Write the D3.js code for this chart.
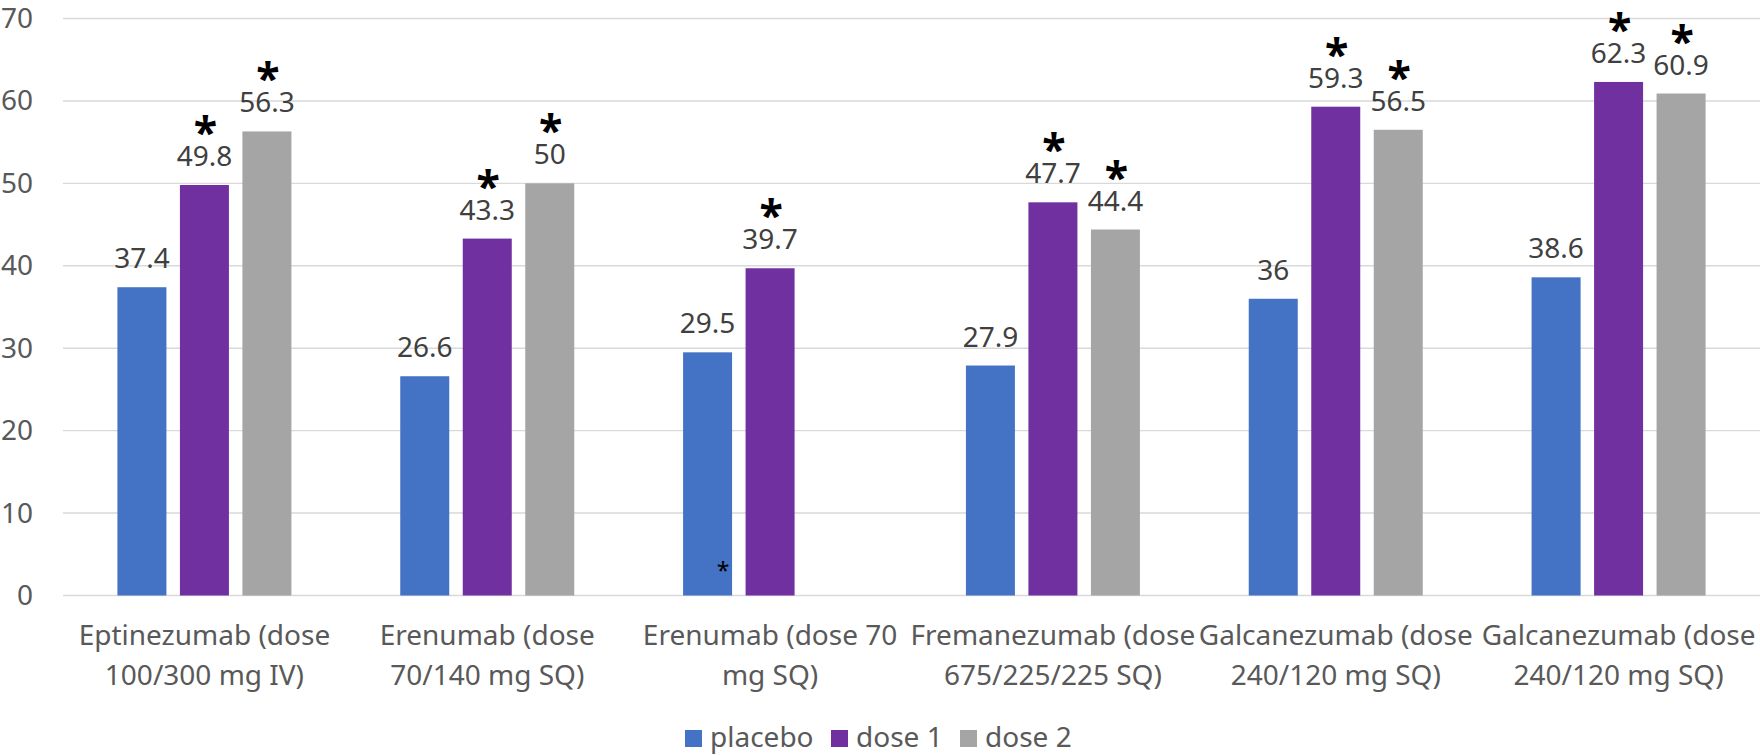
<!DOCTYPE html>
<html>
<head>
<meta charset="utf-8">
<script src="https://cdn.jsdelivr.net/npm/d3@7"></script>
<style>
  html, body { margin: 0; padding: 0; background: #fff; }
  svg text { font-family: "Noto Sans", "Open Sans", sans-serif; }
</style>
</head>
<body>
<svg id="chart" width="1760" height="755"></svg>
<script>
// Responder rates by CGRP antibody trial
const categories = [
  ["Eptinezumab (dose", "100/300 mg IV)"],
  ["Erenumab (dose", "70/140 mg SQ)"],
  ["Erenumab (dose 70", "mg SQ)"],
  ["Fremanezumab (dose", "675/225/225 SQ)"],
  ["Galcanezumab (dose", "240/120 mg SQ)"],
  ["Galcanezumab (dose", "240/120 mg SQ)"]
];
const seriesNames = ["placebo", "dose 1", "dose 2"];
const placebo = [37.4, 26.6, 29.5, 27.9, 36, 38.6];
const dose1 = [49.8, 43.3, 39.7, 47.7, 59.3, 62.3];
const dose2 = [56.3, 50, null, 44.4, 56.5, 60.9];
// significance markers (1 = marked) per series
const sigPlacebo = [0, 0, 0, 0, 0, 0];
const sigDose1 = [1, 1, 1, 1, 1, 1];
const sigDose2 = [1, 1, 0, 1, 1, 1];
const yTicks = [0, 10, 20, 30, 40, 50, 60, 70];
const colors = ["#4472C4", "#7030A0", "#A5A5A5"];

const svg = d3.select("#chart");
const plotLeft = 63, plotRight = 1760;
const FS = 28;

const y = d3.scaleLinear().domain([0, 70]).range([595.5, 18.5]);
const x = d3.scaleBand().domain(d3.range(categories.length)).range([plotLeft, plotRight]).padding(0);
const groupW = 174;
const xs = d3.scaleBand().domain(seriesNames).range([-groupW / 2, groupW / 2]).paddingInner(0.216).paddingOuter(0);

// gridlines
svg.append("g").selectAll("line").data(yTicks).join("line")
  .attr("x1", plotLeft).attr("x2", plotRight)
  .attr("y1", d => y(d)).attr("y2", d => y(d))
  .attr("stroke", "#D9D9D9").attr("stroke-width", 1.4);

// y axis labels
const yAxis = d3.axisLeft(y).tickValues(yTicks).tickSize(0).tickPadding(0);
const yg = svg.append("g").attr("transform", "translate(33,0)").call(yAxis);
yg.select(".domain").remove();
yg.selectAll("text").attr("font-size", FS).attr("fill", "#595959")
  .attr("font-family", '"Noto Sans", "Open Sans", sans-serif');

// one row per drawn bar
const seriesVals = [placebo, dose1, dose2];
const seriesSig = [sigPlacebo, sigDose1, sigDose2];
const rows = [];
categories.forEach((c, i) => {
  seriesNames.forEach((s, k) => {
    const v = seriesVals[k][i];
    if (v !== null) rows.push({ i, s, k, v, sig: seriesSig[k][i] });
  });
});
const bx = d => x(d.i) + x.bandwidth() / 2 + xs(d.s);
const mid = d => bx(d) + xs.bandwidth() / 2;

svg.append("g").selectAll("rect").data(rows).join("rect")
  .attr("x", d => bx(d))
  .attr("width", xs.bandwidth())
  .attr("y", d => y(d.v))
  .attr("height", d => y(0) - y(d.v))
  .attr("fill", d => colors[d.k]);

// value labels
svg.append("g").selectAll("text").data(rows).join("text")
  .attr("x", d => mid(d))
  .attr("y", d => y(d.v) - 19)
  .attr("text-anchor", "middle")
  .attr("font-size", FS)
  .attr("fill", "#404040")
  .text(d => d.v);

// significance asterisks
svg.append("g").selectAll("text").data(rows.filter(d => d.sig)).join("text")
  .attr("x", d => mid(d) + 1)
  .attr("y", d => y(d.v) - 37)
  .attr("text-anchor", "middle")
  .attr("font-family", '"DejaVu Sans", sans-serif')
  .attr("font-size", 43)
  .attr("font-weight", "bold")
  .attr("fill", "#000")
  .text("*");

// small footnote asterisk inside the Erenumab (dose 70) placebo bar
const noteRow = rows.find(d => d.i === 2 && d.k === 0);
svg.append("text")
  .attr("x", bx(noteRow) + xs.bandwidth() - 9)
  .attr("y", y(0) - 17)
  .attr("text-anchor", "middle")
  .attr("font-family", '"DejaVu Sans", sans-serif')
  .attr("font-size", 23)
  .attr("fill", "#000")
  .text("*");

// category labels (two lines)
const cat = svg.append("g").selectAll("text").data(categories).join("text")
  .attr("text-anchor", "middle")
  .attr("font-size", FS)
  .attr("fill", "#595959")
  .attr("transform", (d, i) => `translate(${x(i) + x.bandwidth() / 2},0)`);
cat.selectAll("tspan").data(d => d).join("tspan")
  .attr("x", 0)
  .attr("y", (d, j) => 645 + j * 40)
  .text(d => d);

// legend
const legendX = [685, 831, 960];
const lg = svg.append("g").selectAll("g").data(seriesNames).join("g")
  .attr("transform", (d, k) => `translate(${legendX[k]},730)`);
lg.append("rect").attr("width", 17).attr("height", 17).attr("fill", (d, k) => colors[k]);
lg.append("text").attr("x", 25).attr("y", 17).attr("font-size", FS).attr("fill", "#595959").text(d => d);
</script>
</body>
</html>
